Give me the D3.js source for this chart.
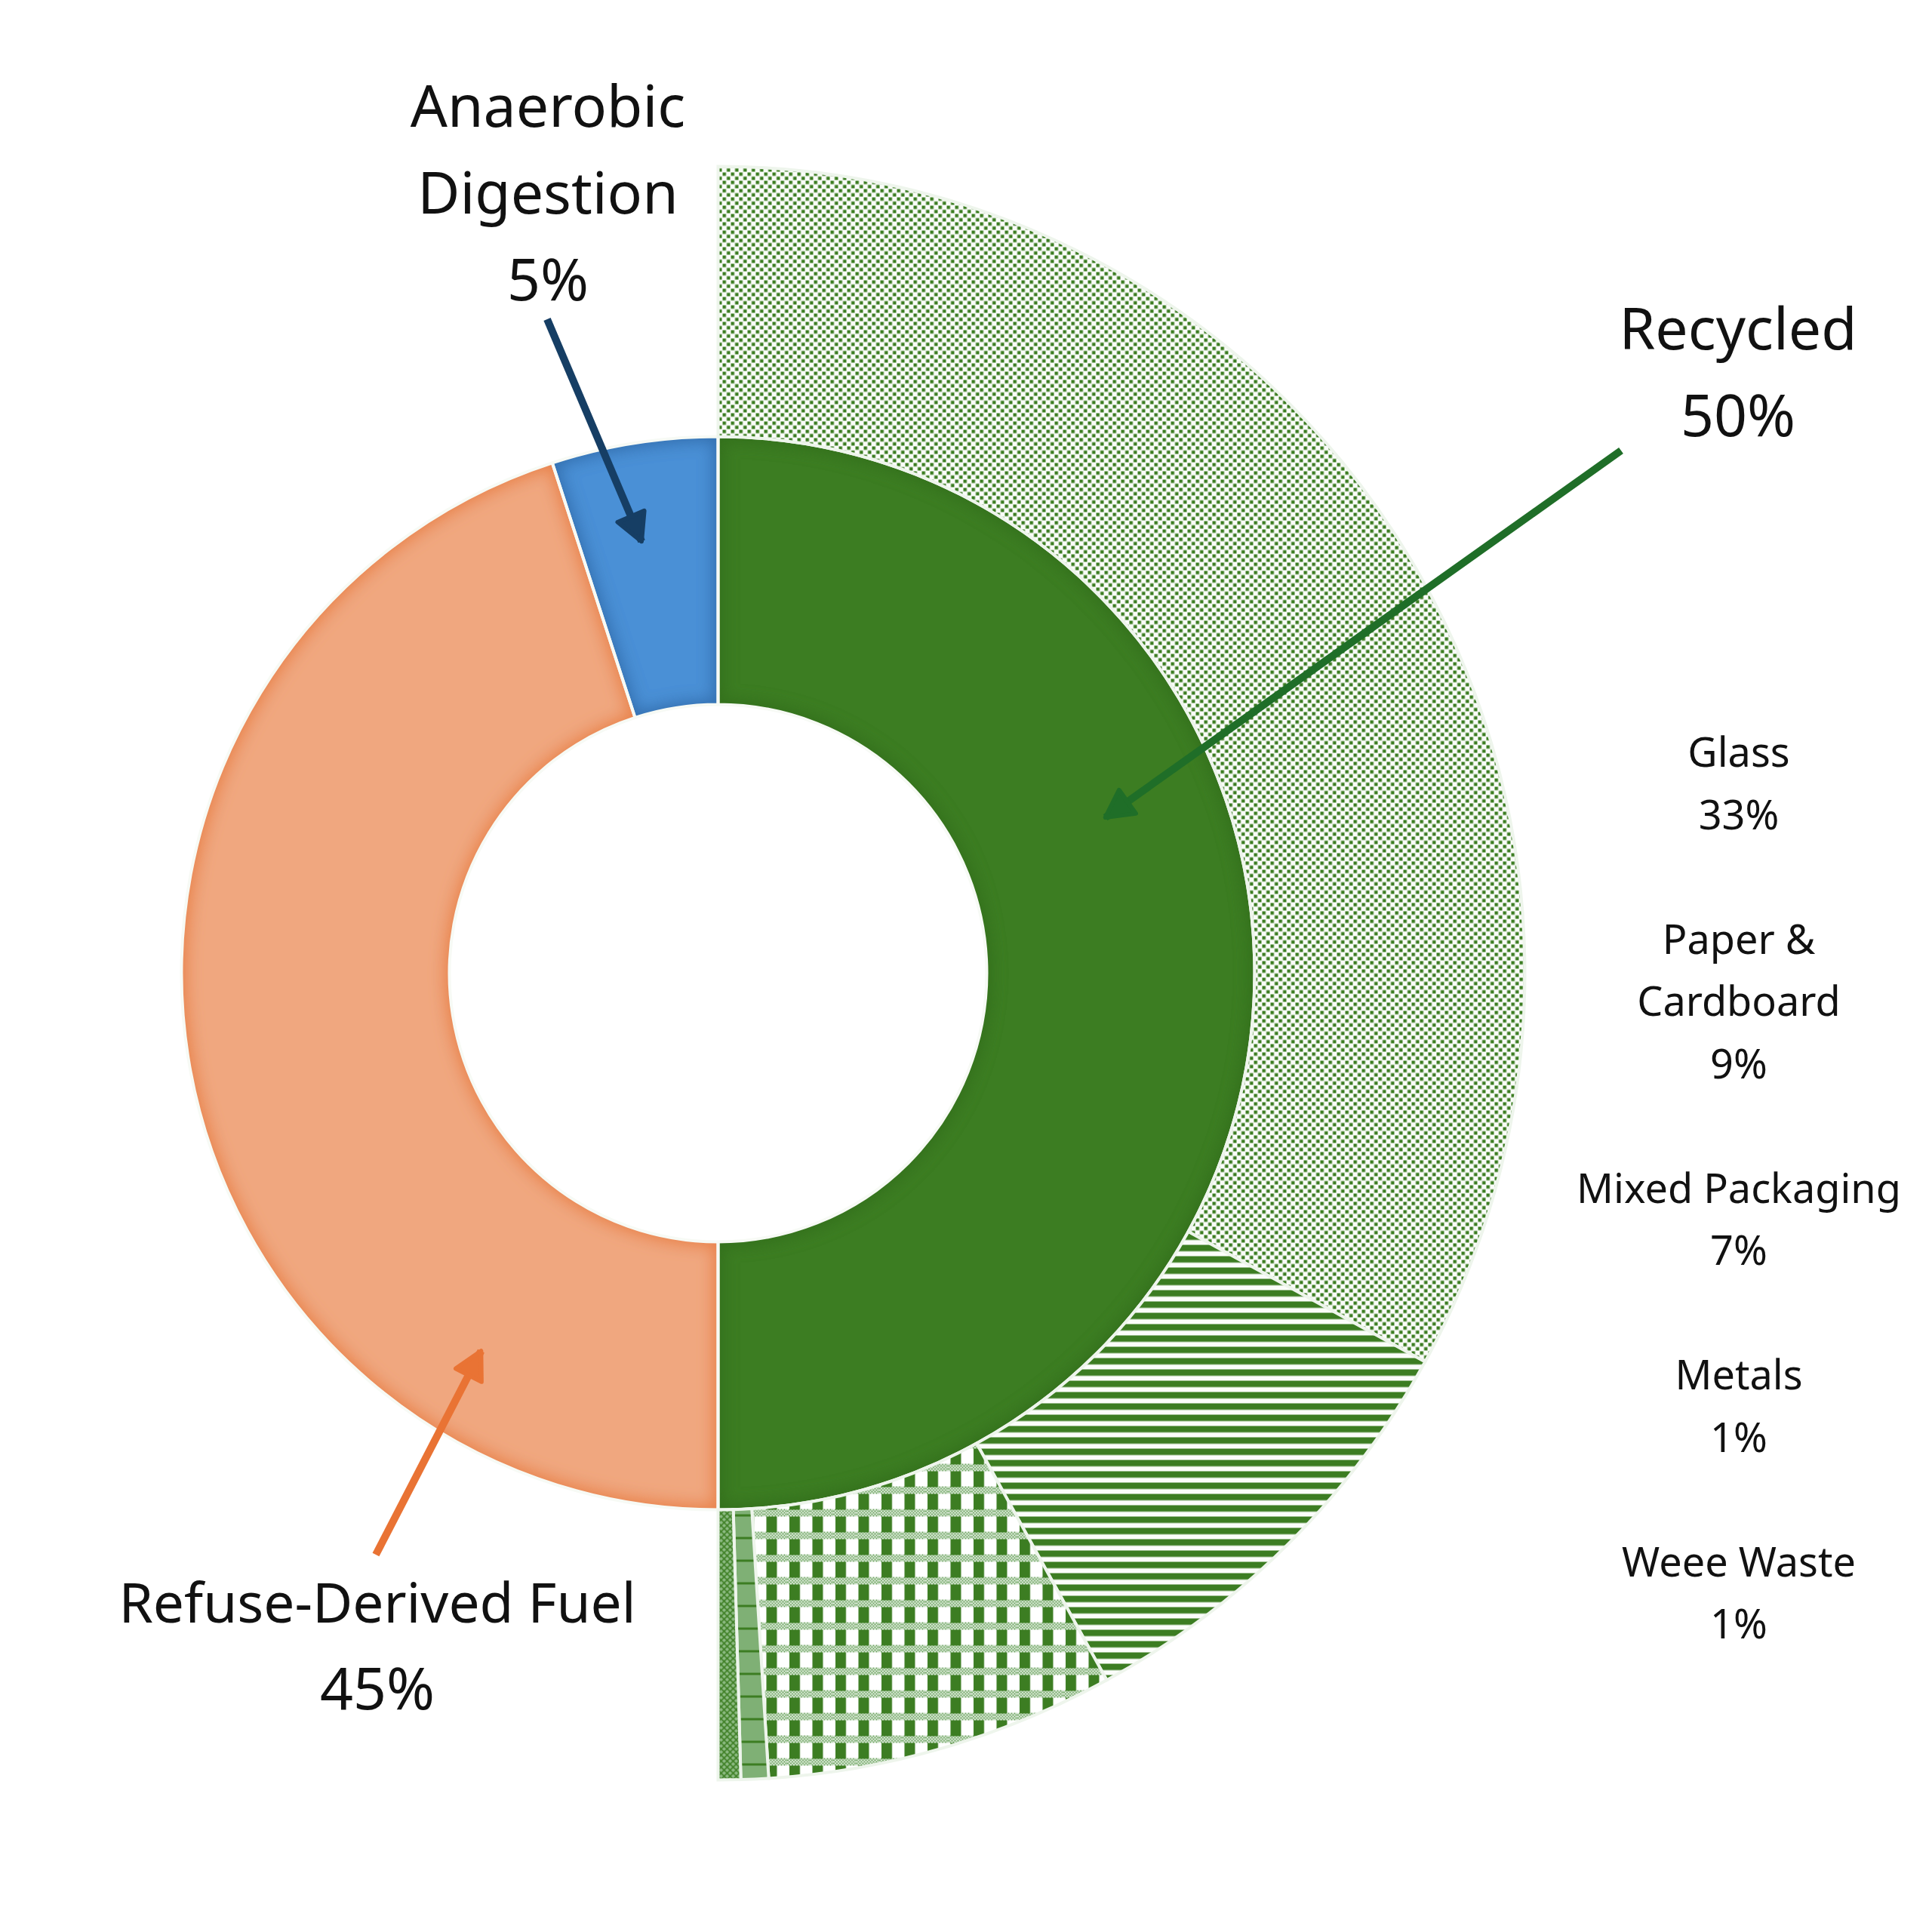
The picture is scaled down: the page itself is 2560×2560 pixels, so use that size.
<!DOCTYPE html>
<html>
<head>
<meta charset="utf-8">
<script src="https://cdn.jsdelivr.net/npm/d3@7"></script>
<style>
  body { margin: 0; background: #fff; }
  text { font-family: "Noto Sans", sans-serif; font-weight: 400; fill: #111; }
</style>
</head>
<body>
<div class="chart"></div>
<script>
// Inner ring: where the waste goes
const innerCategories = ["Recycled", "Refuse-Derived Fuel", "Anaerobic Digestion"];
const innerValues = [50, 45, 5];
const innerLabels = ["50%", "45%", "5%"];

// Outer ring: breakdown of the recycled half
const outerCategories = ["Glass", "Paper & Cardboard", "Mixed Packaging", "Metals", "Weee Waste"];
const outerValues = [33, 9, 7, 0.55, 0.45];
const outerLabels = ["33%", "9%", "7%", "1%", "1%"];

// Layout
const width = 2560, height = 2560;
const cx = 951.5, cy = 1289.5;
const rHole = 356, rMid = 711, rOuter = 1069;

const innerColor = d3.scaleOrdinal().domain(innerCategories).range(["#3c7d22", "#f0a77f", "#4a90d6"]);
const innerEdge = d3.scaleOrdinal().domain(innerCategories).range(["#33701c", "#e9834c", "#3470b0"]);
const outerFill = d3.scaleOrdinal().domain(outerCategories)
    .range(["url(#p-dots)", "url(#p-stripes)", "url(#p-gingham)", "url(#p-bricks)", "url(#p-cross)"]);

const svg = d3.select(".chart").append("svg")
    .attr("width", width)
    .attr("height", height);

const defs = svg.append("defs");

// soft inner edge per inner slice
innerCategories.forEach((c, i) => {
    const f = defs.append("filter").attr("id", "soft" + i)
        .attr("x", "-10%").attr("y", "-10%").attr("width", "120%").attr("height", "120%")
        .attr("color-interpolation-filters", "sRGB");
    f.append("feGaussianBlur").attr("in", "SourceAlpha").attr("stdDeviation", 12).attr("result", "b");
    f.append("feComposite").attr("in", "SourceAlpha").attr("in2", "b").attr("operator", "out").attr("result", "edge");
    f.append("feFlood").attr("flood-color", innerEdge(c)).attr("result", "fl");
    f.append("feComposite").attr("in", "fl").attr("in2", "edge").attr("operator", "in").attr("result", "sh");
    const m = f.append("feMerge");
    m.append("feMergeNode").attr("in", "SourceGraphic");
    m.append("feMergeNode").attr("in", "sh");
    m.append("feMergeNode").attr("in", "sh");
});

const dark = "#3c7d22";

// Glass: staggered dots
const pDots = defs.append("pattern").attr("id", "p-dots").attr("patternUnits", "userSpaceOnUse")
    .attr("width", 11).attr("height", 11);
pDots.append("rect").attr("width", 11).attr("height", 11).attr("fill", "#fafcf9");
pDots.append("rect").attr("x", 0.5).attr("y", 0.5).attr("width", 4.5).attr("height", 4.5).attr("fill", dark);
pDots.append("rect").attr("x", 6).attr("y", 6).attr("width", 4.5).attr("height", 4.5).attr("fill", dark);

// Paper & Cardboard: horizontal stripes
const pStripes = defs.append("pattern").attr("id", "p-stripes").attr("patternUnits", "userSpaceOnUse")
    .attr("width", 15).attr("height", 15);
pStripes.append("rect").attr("width", 15).attr("height", 15).attr("fill", "#fbfdfa");
pStripes.append("rect").attr("width", 15).attr("height", 8.5).attr("fill", dark);

// fine mesh for gingham bands
const pMesh = defs.append("pattern").attr("id", "p-mesh").attr("patternUnits", "userSpaceOnUse")
    .attr("width", 4).attr("height", 4);
pMesh.append("rect").attr("width", 4).attr("height", 4).attr("fill", "#6fa663");
pMesh.append("rect").attr("x", 0).attr("y", 0).attr("width", 2).attr("height", 2).attr("fill", "#eef5ec");
pMesh.append("rect").attr("x", 2).attr("y", 2).attr("width", 2).attr("height", 2).attr("fill", "#eef5ec");

// Mixed Packaging: gingham
const pGing = defs.append("pattern").attr("id", "p-gingham").attr("patternUnits", "userSpaceOnUse")
    .attr("width", 30.5).attr("height", 30);
pGing.append("rect").attr("width", 30.5).attr("height", 30).attr("fill", "#ffffff");
pGing.append("rect").attr("x", 0).attr("y", 20).attr("width", 30.5).attr("height", 10).attr("fill", "url(#p-mesh)");
pGing.append("rect").attr("x", 3).attr("y", 0).attr("width", 14).attr("height", 21).attr("fill", dark);

// Metals: light green with thin rules
const pBricks = defs.append("pattern").attr("id", "p-bricks").attr("patternUnits", "userSpaceOnUse")
    .attr("width", 40).attr("height", 30);
pBricks.append("rect").attr("width", 40).attr("height", 30).attr("fill", "#7fb075");
pBricks.append("rect").attr("y", 27).attr("width", 40).attr("height", 3).attr("fill", dark);

// Weee: fine cross hatch
const pCross = defs.append("pattern").attr("id", "p-cross").attr("patternUnits", "userSpaceOnUse")
    .attr("width", 8).attr("height", 8);
pCross.append("rect").attr("width", 8).attr("height", 8).attr("fill", "#8dbb83");
pCross.append("path").attr("d", "M0,0L8,8M8,0L0,8").attr("stroke", dark).attr("stroke-width", 1.6);

// arrowhead markers
function arrowMarker(id, color) {
    defs.append("marker").attr("id", id)
        .attr("viewBox", "0 0 10 10").attr("refX", 9).attr("refY", 5)
        .attr("markerUnits", "userSpaceOnUse")
        .attr("markerWidth", 48).attr("markerHeight", 48)
        .attr("orient", "auto")
        .append("path")
        .attr("d", "M1.5,1L9,5L1.5,9Z")
        .attr("fill", color).attr("stroke", color)
        .attr("stroke-width", 1.2).attr("stroke-linejoin", "round");
}
arrowMarker("a-green", "#1f6e28");
arrowMarker("a-orange", "#e97334");
arrowMarker("a-blue", "#163e64");

const g = svg.append("g").attr("transform", `translate(${cx},${cy})`);

// Inner ring
const innerPie = d3.pie().sort(null).value(d => d.value);
const innerData = innerPie(innerCategories.map((c, i) => ({ name: c, value: innerValues[i], label: innerLabels[i] })));
const innerArc = d3.arc().innerRadius(rHole).outerRadius(rMid);

g.append("g").selectAll("path")
    .data(innerData)
    .join("path")
    .attr("d", innerArc)
    .attr("fill", d => innerColor(d.data.name))
    .attr("filter", (d, i) => `url(#soft${i})`);

g.append("g").selectAll("path")
    .data(innerData)
    .join("path")
    .attr("d", innerArc)
    .attr("fill", "none")
    .attr("stroke", "#f7faf5")
    .attr("stroke-width", 4);

// Outer ring (right half only)
const outerPie = d3.pie().sort(null).startAngle(0).endAngle(Math.PI).value(d => d.value);
const outerData = outerPie(outerCategories.map((c, i) => ({ name: c, value: outerValues[i], label: outerLabels[i] })));
const outerArc = d3.arc().innerRadius(rMid).outerRadius(rOuter);

g.append("g").selectAll("path")
    .data(outerData)
    .join("path")
    .attr("d", outerArc)
    .attr("fill", d => outerFill(d.data.name))
    .attr("stroke", "#eef5ec")
    .attr("stroke-width", 4);

// Callout labels with arrows (positions in page pixels, tips in polar coords)
const callouts = [
    { name: "Anaerobic Digestion", lines: ["Anaerobic", "Digestion"], x: 726, y: 168, lh: 115, size: 77,
      from: [725, 423], tip: [-10.05, 581], marker: "a-blue", color: "#163e64" },
    { name: "Recycled", lines: ["Recycled"], x: 2303, y: 463, lh: 115, size: 77,
      from: [2148, 597], tip: [68.1, 553], marker: "a-green", color: "#1f6e28" },
    { name: "Refuse-Derived Fuel", lines: ["Refuse-Derived Fuel"], x: 500, y: 2150, lh: 115, size: 73,
      from: [498, 2060], tip: [-147.9, 591], marker: "a-orange", color: "#e97334" }
];

callouts.forEach(c => {
    const d = innerData.find(s => s.data.name === c.name);
    const t = svg.append("text")
        .attr("text-anchor", "middle")
        .attr("font-size", c.size);
    c.lines.concat([d.data.label]).forEach((l, i) => {
        t.append("tspan").attr("x", c.x).attr("y", c.y + i * c.lh)
            .attr("font-size", i === c.lines.length ? 77 : null)
            .text(l);
    });
    const p = d3.pointRadial(c.tip[0] * Math.PI / 180, c.tip[1]);
    svg.append("line")
        .attr("x1", c.from[0]).attr("y1", c.from[1])
        .attr("x2", cx + p[0]).attr("y2", cy + p[1])
        .attr("stroke", c.color)
        .attr("stroke-width", 10)
        .attr("marker-end", `url(#${c.marker})`);
});

// Outer ring labels, stacked at the right
const outerLines = {
    "Glass": ["Glass"],
    "Paper & Cardboard": ["Paper &", "Cardboard"],
    "Mixed Packaging": ["Mixed Packaging"],
    "Metals": ["Metals"],
    "Weee Waste": ["Weee Waste"]
};
const labelX = 2304, labelTop = 1016, labelStep = 82.5;
let row = 0;
const side = svg.append("text").attr("text-anchor", "middle").attr("font-size", 54);
outerData.forEach(d => {
    outerLines[d.data.name].concat([d.data.label]).forEach(l => {
        side.append("tspan").attr("x", labelX).attr("y", labelTop + row * labelStep).text(l);
        row++;
    });
    row++;
});
</script>
</body>
</html>
